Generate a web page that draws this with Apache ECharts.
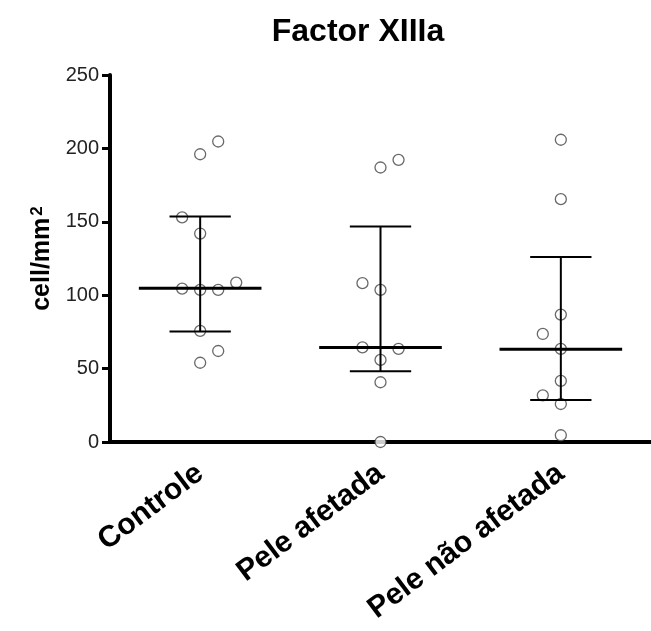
<!DOCTYPE html>
<html>
<head>
<meta charset="utf-8">
<script src="https://cdn.jsdelivr.net/npm/echarts@6/dist/echarts.min.js"></script>
<style>
  html, body { margin: 0; padding: 0; background: #fff; }
  #chart { width: 651px; height: 631px; }
</style>
</head>
<body>
<div id="chart"></div>
<script>
var groups = ['Controle', 'Pele afetada', 'Pele não afetada'];
var yTicks = [0, 50, 100, 150, 200, 250];

// valores individuais (cell/mm2) e coluna do ponto no grupo (espalhamento)
var controleVals = [204.7, 196, 153, 142, 108.6, 104.5, 103.6, 103.6, 75.7, 62, 54];
var controleCols = [1, 0, -1, 0, 2, -1, 0, 1, 0, 1, 0];
var afetadaVals = [192.2, 187, 108.2, 103.6, 64.5, 63.4, 55.9, 40.7, 0];
var afetadaCols = [1, 0, -1, 0, -1, 1, 0, 0, 0];
var naoAfetadaVals = [205.9, 165.4, 86.8, 73.6, 63.4, 41.6, 31.8, 25.9, 4.6];
var naoAfetadaCols = [0, 0, 0, -1, 0, 0, -1, 0, 0];

// mediana e intervalo interquartil
var medians = [104.8, 64.3, 63.2];
var q1 = [75.2, 48.2, 28.6];
var q3 = [153.6, 146.8, 126.1];

var colStep = 0.1;   // largura de uma coluna de pontos, em unidades de categoria
var font = "'Liberation Sans', Arial, sans-serif";

function points(idx, vals, cols) {
  var out = [];
  for (var i = 0; i < vals.length; i++) {
    out.push([idx + cols[i] * colStep, vals[i]]);
  }
  return out;
}

var barData = [];
for (var i = 0; i < groups.length; i++) {
  barData.push([i, medians[i], q1[i], q3[i]]);
}

var myChart = echarts.init(document.getElementById('chart'), null, {renderer: 'canvas'});

var option = {
  backgroundColor: '#fff',
  animation: false,
  title: {
    text: 'Factor XIIIa',
    left: 353,
    top: 11,
    textAlign: 'center',
    textStyle: { fontFamily: font, fontWeight: 'bold', fontSize: 32, color: '#000' }
  },
  grid: { left: 110, top: 75, width: 543, height: 367 },
  xAxis: [
    {
      type: 'category',
      data: groups,
      axisLine: { lineStyle: { color: '#000', width: 4 } },
      axisTick: { alignWithLabel: true, length: 6, lineStyle: { color: '#000', width: 3 } },
      axisLabel: {
        rotate: 37, margin: 28, interval: 0,
        fontFamily: font, fontWeight: 'bold', fontSize: 30, color: '#000'
      },
      splitLine: { show: false }
    },
    { type: 'value', min: -0.5, max: 2.5, show: false }
  ],
  yAxis: {
    type: 'value',
    min: yTicks[0],
    max: yTicks[yTicks.length - 1],
    interval: yTicks[1] - yTicks[0],
    name: '{a|cell/mm}{s|2}',
    nameLocation: 'middle',
    nameRotate: 90,
    nameGap: 54,
    nameTextStyle: {
      rich: {
        a: { fontFamily: font, fontWeight: 'bold', fontSize: 25, color: '#000' },
        s: { fontFamily: font, fontWeight: 'bold', fontSize: 17, color: '#000', verticalAlign: 'top', padding: [0, 0, 10, 2] }
      }
    },
    axisLine: { show: true, onZero: false, lineStyle: { color: '#000', width: 4 } },
    axisTick: { show: true, length: 8, lineStyle: { color: '#000', width: 3 } },
    axisLabel: { margin: 11, fontFamily: font, fontSize: 20, color: '#222' },
    splitLine: { show: false }
  },
  series: [
    {
      type: 'custom',
      xAxisIndex: 1,
      z: 4,
      data: barData,
      renderItem: function (params, api) {
        var x = api.value(0);
        var med = api.coord([x, api.value(1)]);
        var lo = api.coord([x, api.value(2)]);
        var hi = api.coord([x, api.value(3)]);
        var medL = api.coord([x - 0.34, api.value(1)]);
        var medR = api.coord([x + 0.34, api.value(1)]);
        var capL = api.coord([x - 0.17, 0])[0];
        var capR = api.coord([x + 0.17, 0])[0];
        var st = { stroke: '#000', lineWidth: 2 };
        return {
          type: 'group',
          children: [
            { type: 'line', shape: { x1: hi[0], y1: hi[1], x2: lo[0], y2: lo[1] }, style: st },
            { type: 'line', shape: { x1: capL, y1: hi[1], x2: capR, y2: hi[1] }, style: st },
            { type: 'line', shape: { x1: capL, y1: lo[1], x2: capR, y2: lo[1] }, style: st },
            { type: 'line', shape: { x1: medL[0], y1: med[1], x2: medR[0], y2: med[1] }, style: { stroke: '#000', lineWidth: 3 } }
          ]
        };
      }
    },
    {
      name: groups[0], type: 'scatter', xAxisIndex: 1, z: 3, clip: false,
      symbolSize: 11, itemStyle: { color: '#fff', borderColor: '#444', borderWidth: 1.3 },
      data: points(0, controleVals, controleCols)
    },
    {
      name: groups[1], type: 'scatter', xAxisIndex: 1, z: 3, clip: false,
      symbolSize: 11, itemStyle: { color: '#fff', borderColor: '#444', borderWidth: 1.3 },
      data: points(1, afetadaVals, afetadaCols)
    },
    {
      name: groups[2], type: 'scatter', xAxisIndex: 1, z: 3, clip: false,
      symbolSize: 11, itemStyle: { color: '#fff', borderColor: '#444', borderWidth: 1.3 },
      data: points(2, naoAfetadaVals, naoAfetadaCols)
    }
  ]
};

myChart.setOption(option, true);
</script>
</body>
</html>
